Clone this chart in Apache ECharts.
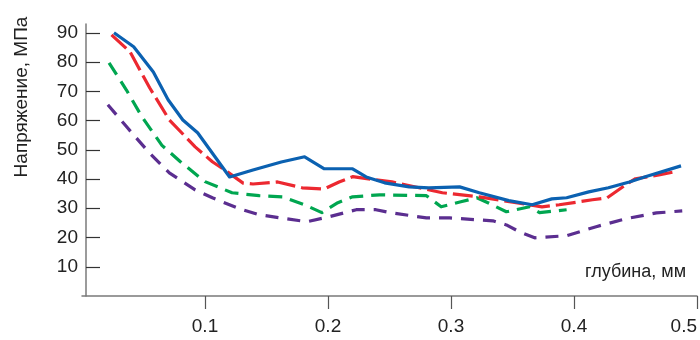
<!DOCTYPE html>
<html>
<head>
<meta charset="utf-8">
<script src="https://cdn.jsdelivr.net/npm/echarts@6/dist/echarts.min.js"></script>
<style>html,body{margin:0;padding:0;background:#fff}#c{width:700px;height:340px}</style>
</head>
<body>
<div id="c"></div>
<script>
// Data (depth in mm, stress in MPa)
const blueDepth = [0.026,0.042,0.058,0.070,0.082,0.094,0.120,0.139,0.162,0.181,0.197,0.220,0.231,0.246,0.266,0.282,0.307,0.323,0.347,0.366,0.382,0.394,0.412,0.428,0.445,0.458,0.487];
const blueVals  = [90.0,85.2,76.6,67.1,60.2,55.8,40.7,43.1,45.8,47.6,43.5,43.5,40.7,38.7,37.3,37.0,37.3,35.3,32.6,31.2,33.2,33.6,35.6,37.0,39.0,40.8,44.5];
const redDepth  = [0.024,0.039,0.055,0.071,0.092,0.106,0.116,0.131,0.139,0.159,0.179,0.197,0.209,0.220,0.239,0.252,0.274,0.293,0.323,0.353,0.374,0.388,0.415,0.427,0.442,0.450,0.469,0.480];
const redVals   = [89.3,83.5,71.2,60.2,51.0,45.9,43.1,38.6,38.3,39.0,37.0,36.6,39.0,40.8,39.7,39.0,37.0,35.3,33.9,31.9,30.5,31.2,32.9,33.6,38.0,40.1,41.4,42.3];
const greenDepth= [0.022,0.036,0.049,0.065,0.080,0.100,0.122,0.144,0.163,0.181,0.195,0.208,0.220,0.242,0.280,0.292,0.308,0.321,0.330,0.345,0.364,0.372,0.394];
const greenVals = [79.7,70.5,61.1,51.5,45.9,39.1,35.3,34.3,33.9,31.2,28.5,31.9,33.9,34.6,34.3,30.5,32.2,33.6,31.9,28.8,30.5,28.5,29.5];
const purpleDepth=[0.021,0.037,0.054,0.071,0.092,0.106,0.128,0.144,0.166,0.183,0.201,0.223,0.239,0.252,0.280,0.299,0.334,0.345,0.356,0.368,0.394,0.418,0.442,0.467,0.488];
const purpleVals= [65.4,57.5,49.3,42.1,36.3,33.6,29.8,27.8,26.4,25.4,27.1,29.5,29.5,28.4,26.7,26.7,25.7,24.3,21.9,19.9,20.6,23.7,26.4,28.4,29.1];
const xTicks = [0.1,0.2,0.3,0.4,0.5];
const yTicks = [10,20,30,40,50,60,70,80,90];
const xTitle = 'глубина, мм';
const yTitle = 'Напряжение, МПа';

function zip(a,b){return a.map((v,i)=>[v,b[i]]);}

const font = '"Liberation Sans", Arial, sans-serif';
const chart = echarts.init(document.getElementById('c'), null, {renderer:'canvas'});
function mk(name, d, v, color, dash){
  return {
    name, type:'line', data: zip(d,v), symbol:'none', smooth:false,
    lineStyle:{color, width:3.2, type: dash, cap:'butt', join:'round'},
    z: 3
  };
}
chart.setOption({
  animation:false,
  backgroundColor:'#fff',
  grid:{left:82, right:2, top:24, bottom:44, containLabel:false},
  xAxis:{
    type:'value', min:0, max:0.5,
    axisLine:{show:true, onZero:false, lineStyle:{color:'#7a7a7a', width:1.5}},
    axisTick:{show:true, inside:false, length:13, customValues:xTicks, lineStyle:{color:'#555', width:1.2}},
    axisLabel:{customValues:xTicks, margin:21, fontSize:19, color:'#222', fontFamily:font, alignMaxLabel:'right',
      formatter:v=>String(Math.round(v*10)/10)},
    splitLine:{show:false}
  },
  yAxis:{
    type:'value', min:0, max:93, offset:-4,
    axisLine:{show:true, onZero:false, lineStyle:{color:'#7a7a7a', width:1.5}},
    axisTick:{show:true, inside:true, length:14, customValues:yTicks, lineStyle:{color:'#333', width:1.2}},
    axisLabel:{customValues:yTicks, margin:8, fontSize:19, color:'#222', fontFamily:font},
    splitLine:{show:false}
  },
  graphic:[
    {type:'text', right:14, top:263,
      style:{text:xTitle, font:'18px ' + font, fill:'#222', textAlign:'right'}},
    {type:'text', x:22, y:97, rotation:Math.PI/2,
      style:{text:yTitle, font:'19px ' + font, fill:'#222', textAlign:'center', textVerticalAlign:'middle'}}
  ],
  series:[
    mk('purple', purpleDepth, purpleVals, '#5b2e90', [13,9]),
    mk('green', greenDepth, greenVals, '#00a650', [14,8]),
    mk('red', redDepth, redVals, '#ec2830', [20,6]),
    mk('blue', blueDepth, blueVals, '#0b61b1', 'solid')
  ]
});
</script>
</body>
</html>
